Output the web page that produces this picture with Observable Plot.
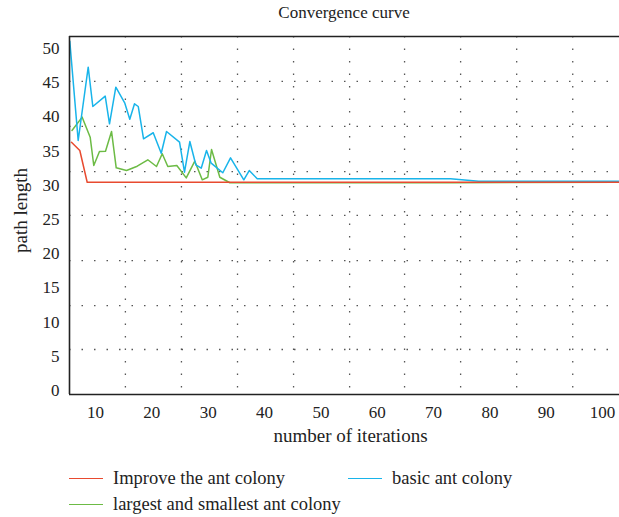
<!DOCTYPE html>
<html><head><meta charset="utf-8">
<script src="https://cdn.jsdelivr.net/npm/d3@7"></script>
<script src="https://cdn.jsdelivr.net/npm/@observablehq/plot@0.6"></script>
<style>
body{margin:0;background:#fff;font-family:"Liberation Serif","Times New Roman",serif;color:#222}
#wrap{position:relative;width:619px;height:517px;overflow:hidden}
#title{position:absolute;top:0;left:69px;width:550px;height:26px;line-height:26px;text-align:center;font-size:17px}
#chart{position:absolute;top:26px;left:0}
.leg{position:absolute;height:20px;line-height:20px;font-size:18.5px;display:flex;align-items:center;white-space:nowrap}
.sw{display:inline-block;width:34px;height:0;border-top:1.5px solid;margin-right:10px}
</style></head>
<body><div id="wrap">
<div id="title">Convergence curve</div>
<div id="chart"></div>
<div id="legend"></div>
</div>
<script>
const seriesNames = ["Improve the ant colony", "basic ant colony", "largest and smallest ant colony"];
const seriesColors = ["#e84a2f", "#18b4ea", "#6cbb45"];

const iterTicks = [10, 20, 30, 40, 50, 60, 70, 80, 90, 100];
const lengthTicks = [0, 5, 10, 15, 20, 25, 30, 35, 40, 45, 50];
const gridIter = [15.3, 25.25, 35.2, 45.15, 55.1, 64.85, 74.8, 84.75, 94.7];
const gridLength = [45.2, 38.6, 32.0, 25.6, 19.0, 12.4, 6.0];

const redIter = [5.73, 7.21, 8.52, 103.0];
const redLen  = [36.30, 35.09, 30.45, 30.45];

const blueIter = [5.43, 6.92, 8.70, 9.52, 11.72, 12.48, 13.60, 15.20, 16.08, 16.92, 17.58, 18.52, 20.24, 21.66, 22.60, 24.91, 25.79, 26.74, 27.80, 28.76, 29.70, 30.53, 32.59, 33.96, 36.32, 37.28, 38.70, 73.0, 78.0, 103.0];
const blueLen  = [51.07, 36.55, 47.27, 41.52, 43.03, 38.99, 44.34, 42.0, 39.66, 41.91, 41.52, 36.80, 37.68, 34.69, 37.87, 36.30, 31.92, 36.40, 33.0, 32.5, 35.09, 33.23, 31.83, 34.02, 30.80, 32.16, 30.95, 30.95, 30.6, 30.6];

const greenIter = [5.82, 7.63, 9.05, 9.69, 10.70, 11.77, 12.84, 13.67, 15.50, 17.40, 19.28, 20.82, 21.84, 22.83, 24.43, 26.10, 27.62, 28.94, 29.93, 30.59, 32.06, 33.84, 73.5, 103.0];
const greenLen  = [38.01, 39.96, 37.03, 32.89, 34.94, 34.99, 37.87, 32.56, 32.16, 32.79, 33.73, 32.75, 34.61, 32.75, 32.89, 31.09, 33.52, 30.80, 31.18, 35.23, 31.18, 30.37, 30.37, 30.45];

const toRows = (xs, ys) => xs.map((x, i) => ({iter: x, len: ys[i]}));
const red = toRows(redIter, redLen);
const blue = toRows(blueIter, blueLen);
const green = toRows(greenIter, greenLen);

const xDom = [5.38, 103.0];
const yDom = [-0.58, 51.75];
const serif = "'Liberation Serif', 'Times New Roman', serif";

const chart = Plot.plot({
  width: 619, height: 424,
  marginLeft: 69, marginRight: 0, marginTop: 10, marginBottom: 56,
  x: {domain: xDom, label: null},
  y: {domain: yDom, label: null},
  style: {fontFamily: serif, fontSize: "17px", color: "#222", background: "white"},
  marks: [
    Plot.ruleX(gridIter, {stroke: "#555", strokeWidth: 1.3, strokeDasharray: "1.5,11"}),
    Plot.ruleY(gridLength, {stroke: "#555", strokeWidth: 1.3, strokeDasharray: "1.5,11"}),
    Plot.line(green, {x: "iter", y: "len", stroke: seriesColors[2], strokeWidth: 1.5}),
    Plot.line(blue, {x: "iter", y: "len", stroke: seriesColors[1], strokeWidth: 1.5}),
    Plot.line(red, {x: "iter", y: "len", stroke: seriesColors[0], strokeWidth: 1.5}),
    Plot.ruleX([xDom[0]], {stroke: "#222", strokeWidth: 1.6}),
    Plot.ruleY(yDom, {stroke: "#222", strokeWidth: 1.6}),
    Plot.axisX(iterTicks, {tickSize: 0, tickPadding: 11, fontSize: 17, fontFamily: serif, label: null}),
    Plot.axisY(lengthTicks, {tickSize: 0, tickPadding: 10, fontSize: 17, fontFamily: serif, label: null}),
    Plot.text(["number of iterations"], {frameAnchor: "bottom", dx: 6, dy: 47, fontSize: 19, fontFamily: serif, fill: "#222"}),
    Plot.text(["path length"], {frameAnchor: "left", textAnchor: "middle", dx: -49, dy: -5, rotate: -90, fontSize: 19, fontFamily: serif, fill: "#222"})
  ]
});
document.getElementById("chart").appendChild(chart);

const legendPos = [[69, 468], [348, 468], [69, 494]];
const legendOrder = [0, 1, 2];
const legend = document.getElementById("legend");
legendOrder.forEach((k, i) => {
  const d = document.createElement("div");
  d.className = "leg";
  d.style.left = legendPos[i][0] + "px";
  d.style.top = legendPos[i][1] + "px";
  const s = document.createElement("span");
  s.className = "sw";
  s.style.borderTopColor = seriesColors[k];
  d.appendChild(s);
  d.appendChild(document.createTextNode(seriesNames[k]));
  legend.appendChild(d);
});
</script>
</body></html>
